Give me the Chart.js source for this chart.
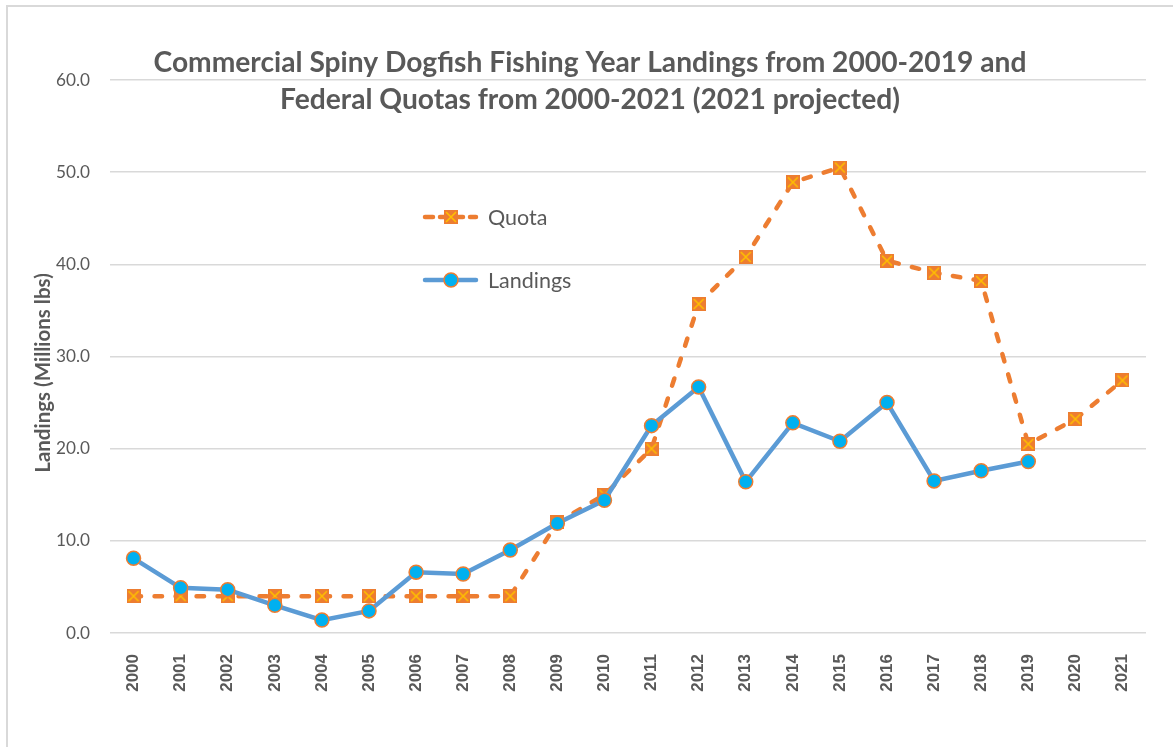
<!DOCTYPE html>
<html>
<head>
<meta charset="utf-8">
<script src="https://cdn.jsdelivr.net/npm/chart.js@4"></script>
<style>
  body { margin: 0; background: #fff; overflow: hidden; }
  #wrap { position: absolute; left: 0; top: 0; width: 1173px; height: 747px; }
  #frame { position: absolute; left: 6px; top: 5px; width: 1400px; height: 900px;
           border-left: 2px solid #d9d9d9; border-top: 2px solid #d9d9d9; }
</style>
</head>
<body>
<div id="wrap">
  <div id="frame"></div>
  <canvas id="chart1"></canvas>
</div>
<script>
const years = ['2000','2001','2002','2003','2004','2005','2006','2007','2008','2009','2010',
               '2011','2012','2013','2014','2015','2016','2017','2018','2019','2020','2021']
const quota = [4.0, 4.0, 4.0, 4.0, 4.0, 4.0, 4.0, 4.0, 4.0, 12.0, 15.0,
               20.0, 35.7, 40.8, 48.9, 50.5, 40.4, 39.1, 38.2, 20.5, 23.2, 27.4]
const landings = [8.1, 4.9, 4.7, 3.0, 1.4, 2.4, 6.6, 6.4, 9.0, 11.9, 14.4,
                  22.5, 26.7, 16.4, 22.8, 20.8, 25.0, 16.5, 17.6, 18.6, null, null]
const titleLines = ['Commercial Spiny Dogfish Fishing Year Landings from 2000-2019 and',
                    'Federal Quotas from 2000-2021 (2021 projected)']
const yTitle = 'Landings (Millions lbs)'

const grey = '#595959'
const orange = '#ED7D31'

// square marker with a yellow cross, like the excel one
function makeCrossBox() {
    var c = document.createElement('canvas')
    c.width = 14
    c.height = 14
    var g = c.getContext('2d')
    g.fillStyle = orange
    g.fillRect(0, 0, 14, 14)
    g.strokeStyle = '#FFC000'
    g.lineWidth = 1.6
    g.beginPath()
    g.moveTo(2, 2); g.lineTo(12, 12)
    g.moveTo(12, 2); g.lineTo(2, 12)
    g.stroke()
    return c
}
const crossBox = makeCrossBox()

const textPlugin = {
    id: 'texts',
    afterDraw(chart) {
        const ctx = chart.ctx
        ctx.save()
        ctx.fillStyle = grey
        ctx.textAlign = 'center'
        ctx.textBaseline = 'alphabetic'
        ctx.font = 'bold 28.2px Lato'
        ctx.fillText(titleLines[0], 590, 72)
        ctx.fillText(titleLines[1], 590, 109)

        ctx.translate(50, 373)
        ctx.rotate(-Math.PI / 2)
        ctx.font = 'bold 20.5px Lato'
        ctx.fillText(yTitle, 0, 0)
        ctx.restore()

        // legend inside the plot
        const rows = [{ds: 0, y: 217}, {ds: 1, y: 280}]
        rows.forEach(r => {
            const ds = chart.data.datasets[r.ds]
            ctx.save()
            ctx.strokeStyle = ds.borderColor
            ctx.lineWidth = ds.borderWidth
            ctx.lineCap = 'round'
            ctx.setLineDash(ds.borderDash ? [8, 7] : [])
            ctx.beginPath()
            ctx.moveTo(425, r.y)
            ctx.lineTo(476, r.y)
            ctx.stroke()
            ctx.setLineDash([])
            if (ds.pointStyle === 'circle') {
                ctx.beginPath()
                ctx.arc(451, r.y, ds.pointRadius, 0, Math.PI * 2)
                ctx.fillStyle = ds.pointBackgroundColor
                ctx.fill()
                ctx.lineWidth = ds.pointBorderWidth
                ctx.strokeStyle = ds.pointBorderColor
                ctx.stroke()
            } else {
                ctx.drawImage(ds.pointStyle, 444, r.y - 7)
            }
            ctx.fillStyle = grey
            ctx.font = '21.5px Lato'
            ctx.textAlign = 'left'
            ctx.textBaseline = 'middle'
            ctx.fillText(ds.label, 488, r.y + 1)
            ctx.restore()
        })
    }
}

ctx = document.getElementById('chart1')
new Chart(ctx, {
    type: 'line',
    data: {
        labels: years,
        datasets: [{
            label: 'Quota',
            data: quota,
            borderColor: orange,
            borderWidth: 4.5,
            borderDash: [7.5, 13.5],
            borderCapStyle: 'round',
            pointStyle: crossBox,
            pointRadius: 7,
            order: 2
        }, {
            label: 'Landings',
            data: landings,
            borderColor: '#5B9BD5',
            borderWidth: 4.5,
            pointStyle: 'circle',
            pointRadius: 7,
            pointBackgroundColor: '#00B0F0',
            pointBorderColor: orange,
            pointBorderWidth: 1.5,
            order: 1
        }]
    },
    options: {
        responsive: true,
        maintainAspectRatio: false,
        animation: false,
        layout: {
            padding: {top: 80, right: 27, bottom: 0, left: 0}
        },
        plugins: {
            legend: {display: false},
            title: {display: false},
            tooltip: {enabled: false}
        },
        scales: {
            x: {
                offset: true,
                grid: {display: false},
                border: {display: false},
                ticks: {
                    color: grey,
                    font: {family: 'Liberation Sans', size: 17, weight: 'bold'},
                    minRotation: 90,
                    maxRotation: 90,
                    padding: 13
                },
                afterFit: (scale) => { scale.height = 114 }
            },
            y: {
                min: 0,
                max: 60,
                grid: {color: '#d9d9d9', lineWidth: 1.5, drawTicks: false},
                border: {display: false},
                ticks: {
                    stepSize: 10,
                    color: grey,
                    font: {family: 'Lato', size: 17.2},
                    padding: 20,
                    callback: (value) => {
                        return value.toFixed(1)
                    }
                },
                afterFit: (scale) => { scale.width = 110 }
            }
        }
    },
    plugins: [textPlugin]
});
</script>
</body>
</html>
